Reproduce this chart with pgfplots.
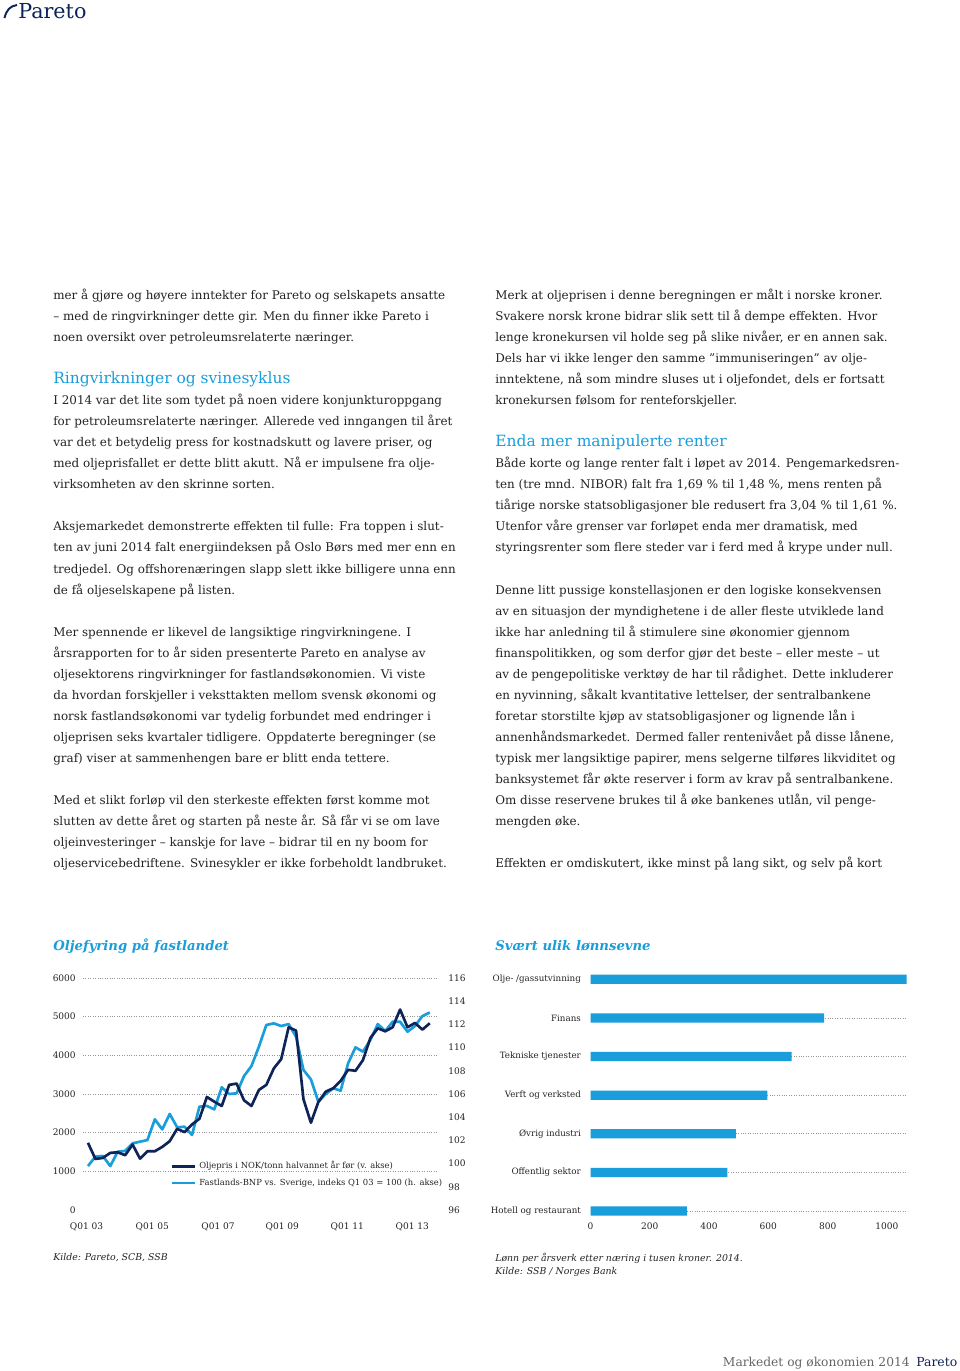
\documentclass[border=0pt]{standalone}
\usepackage{pgfplots}
\pgfplotsset{compat=1.18}
\usepackage{fontspec}
\setmainfont{DejaVu Serif}
\definecolor{pblue}{RGB}{26,158,219}
\definecolor{pnavy}{RGB}{14,35,87}
\definecolor{ptext}{RGB}{35,35,35}
\definecolor{pgrid}{RGB}{150,150,150}
\newcommand\bodyfont{\fontsize{7.4}{9}\selectfont}
\newcommand\tickfont{\fontsize{5.6}{6.5}\selectfont}
\newcommand\catfont{\fontsize{5.4}{6.5}\selectfont}
\newcommand\legfont{\fontsize{5.2}{6.1}\selectfont}
\newcommand\TL[3]{\node[anchor=base west,inner sep=0pt,text=ptext,font=\bodyfont] at (#1,{299.5+21.04*#2}) {#3};}
\begin{document}
\begin{tikzpicture}
\begin{scope}[x=0.62pt,y=-0.62pt]
\useasboundingbox[fill=white] (0,0) rectangle (960,1371);
% logo
\draw[pnavy, line width=1.2pt] (4.5,18) .. controls (6.5,10) and (10,6) .. (17,5);
\node[anchor=base west,inner sep=0pt,text=pnavy,font=\fontsize{12.8}{13}\selectfont] at (18,18.5) {Pareto};
% left column
\TL{53}{0}{mer å gjøre og høyere inntekter for Pareto og selskapets ansatte}
\TL{53}{1}{– med de ringvirkninger dette gir. Men du finner ikke Pareto i}
\TL{53}{2}{noen oversikt over petroleumsrelaterte næringer.}
\node[anchor=base west,inner sep=0pt,text=pblue,font=\fontsize{9.6}{11}\selectfont] at (53,{299.5+21.04*4}) {Ringvirkninger og svinesyklus};
\TL{53}{5}{I 2014 var det lite som tydet på noen videre konjunkturoppgang}
\TL{53}{6}{for petroleumsrelaterte næringer. Allerede ved inngangen til året}
\TL{53}{7}{var det et betydelig press for kostnadskutt og lavere priser, og}
\TL{53}{8}{med oljeprisfallet er dette blitt akutt. Nå er impulsene fra olje-}
\TL{53}{9}{virksomheten av den skrinne sorten.}
\TL{53}{11}{Aksjemarkedet demonstrerte effekten til fulle: Fra toppen i slut-}
\TL{53}{12}{ten av juni 2014 falt energiindeksen på Oslo Børs med mer enn en}
\TL{53}{13}{tredjedel. Og offshorenæringen slapp slett ikke billigere unna enn}
\TL{53}{14}{de få oljeselskapene på listen.}
\TL{53}{16}{Mer spennende er likevel de langsiktige ringvirkningene. I}
\TL{53}{17}{årsrapporten for to år siden presenterte Pareto en analyse av}
\TL{53}{18}{oljesektorens ringvirkninger for fastlandsøkonomien. Vi viste}
\TL{53}{19}{da hvordan forskjeller i veksttakten mellom svensk økonomi og}
\TL{53}{20}{norsk fastlandsøkonomi var tydelig forbundet med endringer i}
\TL{53}{21}{oljeprisen seks kvartaler tidligere. Oppdaterte beregninger (se}
\TL{53}{22}{graf) viser at sammenhengen bare er blitt enda tettere.}
\TL{53}{24}{Med et slikt forløp vil den sterkeste effekten først komme mot}
\TL{53}{25}{slutten av dette året og starten på neste år. Så får vi se om lave}
\TL{53}{26}{oljeinvesteringer – kanskje for lave – bidrar til en ny boom for}
\TL{53}{27}{oljeservicebedriftene. Svinesykler er ikke forbeholdt landbruket.}
% right column
\TL{495}{0}{Merk at oljeprisen i denne beregningen er målt i norske kroner.}
\TL{495}{1}{Svakere norsk krone bidrar slik sett til å dempe effekten. Hvor}
\TL{495}{2}{lenge kronekursen vil holde seg på slike nivåer, er en annen sak.}
\TL{495}{3}{Dels har vi ikke lenger den samme ”immuniseringen” av olje-}
\TL{495}{4}{inntektene, nå som mindre sluses ut i oljefondet, dels er fortsatt}
\TL{495}{5}{kronekursen følsom for renteforskjeller.}
\node[anchor=base west,inner sep=0pt,text=pblue,font=\fontsize{9.6}{11}\selectfont] at (495,{299.5+21.04*7}) {Enda mer manipulerte renter};
\TL{495}{8}{Både korte og lange renter falt i løpet av 2014. Pengemarkedsren-}
\TL{495}{9}{ten (tre mnd. NIBOR) falt fra 1,69 \% til 1,48 \%, mens renten på}
\TL{495}{10}{tiårige norske statsobligasjoner ble redusert fra 3,04 \% til 1,61 \%.}
\TL{495}{11}{Utenfor våre grenser var forløpet enda mer dramatisk, med}
\TL{495}{12}{styringsrenter som flere steder var i ferd med å krype under null.}
\TL{495}{14}{Denne litt pussige konstellasjonen er den logiske konsekvensen}
\TL{495}{15}{av en situasjon der myndighetene i de aller fleste utviklede land}
\TL{495}{16}{ikke har anledning til å stimulere sine økonomier gjennom}
\TL{495}{17}{finanspolitikken, og som derfor gjør det beste – eller meste – ut}
\TL{495}{18}{av de pengepolitiske verktøy de har til rådighet. Dette inkluderer}
\TL{495}{19}{en nyvinning, såkalt kvantitative lettelser, der sentralbankene}
\TL{495}{20}{foretar storstilte kjøp av statsobligasjoner og lignende lån i}
\TL{495}{21}{annenhåndsmarkedet. Dermed faller rentenivået på disse lånene,}
\TL{495}{22}{typisk mer langsiktige papirer, mens selgerne tilføres likviditet og}
\TL{495}{23}{banksystemet får økte reserver i form av krav på sentralbankene.}
\TL{495}{24}{Om disse reservene brukes til å øke bankenes utlån, vil penge-}
\TL{495}{25}{mengden øke.}
\TL{495}{27}{Effekten er omdiskutert, ikke minst på lang sikt, og selv på kort}
% chart titles
\node[anchor=base west,inner sep=0pt,text=pblue,font=\fontsize{8.2}{10}\selectfont\bfseries\itshape] at (53,950) {Oljefyring på fastlandet};
\node[anchor=base west,inner sep=0pt,text=pblue,font=\fontsize{8.2}{10}\selectfont\bfseries\itshape] at (495,950) {Svært ulik lønnsevne};
% sources
\node[anchor=base west,inner sep=0pt,text=ptext,font=\fontsize{5.8}{7}\selectfont\itshape] at (53,1260) {Kilde: Pareto, SCB, SSB};
\node[anchor=base west,inner sep=0pt,text=ptext,font=\fontsize{5.8}{7}\selectfont\itshape] at (495,1261) {Lønn per årsverk etter næring i tusen kroner. 2014.};
\node[anchor=base west,inner sep=0pt,text=ptext,font=\fontsize{5.8}{7}\selectfont\itshape] at (495,1274) {Kilde: SSB / Norges Bank};
% footer
\node[anchor=base east,inner sep=0pt,text=black!60,font=\fontsize{7.6}{9}\selectfont] at (910,1366) {Markedet og økonomien 2014};
\node[anchor=base west,inner sep=0pt,text=pnavy,font=\fontsize{7.7}{9}\selectfont] at (916,1366) {Pareto};
\end{scope}

\pgfplotsset{
  pstyle/.style={
    scale only axis, width={355*0.62pt}, height={232*0.62pt},
    at={({83*0.62pt},{-1210*0.62pt})}, anchor=south west,
    xmin=-0.67, xmax=47.1, clip=false,
    axis line style={draw=none}, tick style={draw=none},
    tick label style={font=\tickfont, text=ptext},
    /pgf/number format/assume math mode=true,
    /pgf/number format/1000 sep={},
  }
}
% axis 1: grid, left labels, x labels
\begin{axis}[pstyle,
  ymin=0, ymax=6000,
  ytick={1000,2000,3000,4000,5000,6000},
  extra y ticks={0}, extra y tick style={grid=none},
  ymajorgrids, grid style={pgrid, line width=0.4pt, dash pattern=on 0.6pt off 0.9pt},
  yticklabel style={inner sep=0pt, xshift=-4.3pt},
  xtick={-0.2,8.65,17.5,26.15,34.9,43.65},
  xticklabels={Q01 03,Q01 05,Q01 07,Q01 09,Q01 11,Q01 13},
  xticklabel style={inner sep=0pt, yshift=-7.5pt},
]
\end{axis}
% axis 2: right axis, light series
\begin{axis}[pstyle,
  ymin=96, ymax=116,
  axis x line=none, axis y line*=right,
  ytick={96,98,...,116},
  yticklabel style={inner sep=0pt, xshift=6.2pt},
]
\addplot[pblue, line width=1.65pt, line join=round] coordinates {
(0,99.79)(1,100.60)(2,100.66)(3,99.79)(4,101.03)(5,101.09)(6,101.75)(7,101.89)(8,102.03)(9,103.82)(10,102.95)(11,104.28)(12,103.13)(13,103.18)(14,102.47)(15,104.91)(16,104.97)(17,104.68)(18,106.58)(19,106.00)(20,106.06)(21,107.55)(22,108.41)(23,110.08)(24,111.95)(25,112.09)(26,111.86)(27,112.03)(28,110.94)(29,108.07)(30,107.26)(31,105.34)(32,106.00)(33,106.49)(34,106.29)(35,108.64)(36,110.02)(37,109.65)(38,110.66)(39,112.03)(40,111.43)(41,112.23)(42,112.23)(43,111.37)(44,111.86)(45,112.72)(46,113.03)};
\end{axis}
% axis 3: dark series + legend
\begin{axis}[pstyle,
  ymin=0, ymax=6000, hide axis,
  legend style={at={(0.245,0.2246)}, anchor=north west, draw=none, fill=none,
    inner sep=0pt, font=\legfont, text=ptext, row sep=0.6pt},
  legend cell align=left,
  legend image code/.code={\draw[#1] (0pt,0pt) -- (14.3pt,0pt);},
]
\addplot[pnavy, line width=1.65pt, line join=round] coordinates {
(0,1737)(1,1321)(2,1347)(3,1477)(4,1494)(5,1416)(6,1693)(7,1329)(8,1520)(9,1520)(10,1633)(11,1780)(12,2100)(13,2014)(14,2213)(15,2360)(16,2924)(17,2802)(18,2690)(19,3236)(20,3270)(21,2837)(22,2690)(23,3106)(24,3236)(25,3660)(26,3903)(27,4726)(28,4640)(29,2863)(30,2257)(31,2794)(32,3062)(33,3149)(34,3340)(35,3626)(36,3600)(37,3877)(38,4449)(39,4700)(40,4622)(41,4726)(42,5185)(43,4726)(44,4839)(45,4666)(46,4830)};
\addlegendentry{Oljepris i NOK/tonn halvannet år før (v. akse)}
\addlegendimage{pblue, line width=1.65pt}
\addlegendentry{Fastlands-BNP vs. Sverige, indeks Q1 03 = 100 (h. akse)}
\end{axis}
% bar chart
\begin{axis}[
  scale only axis, width={316*0.62pt}, height={231.7*0.62pt},
  at={({590.5*0.62pt},{-1211*0.62pt})}, anchor=south west,
  xmin=0, xmax=1066, ymin=0, ymax=6, clip=false,
  xbar, bar width={9.3*0.62pt},
  axis line style={draw=none}, tick style={draw=none},
  tick label style={font=\tickfont, text=ptext},
  /pgf/number format/assume math mode=true,
  /pgf/number format/1000 sep={},
  xtick={0,200,400,600,800,1000},
  xticklabel style={inner sep=0pt, yshift=-7pt},
  ytick={0,1,2,3,4,5,6},
  yticklabels={Hotell og restaurant,Offentlig sektor,Øvrig industri,Verft og verksted,Tekniske tjenester,Finans,Olje- /gassutvinning},
  yticklabel style={inner sep=0pt, xshift=-1.5pt, font=\catfont},
  ymajorgrids, grid style={pgrid, line width=0.4pt, dash pattern=on 0.6pt off 0.9pt},
]
\addplot[fill=pblue, draw=none] coordinates {(325.5,0)(461.4,1)(490.7,2)(596.3,3)(678.6,4)(788.5,5)(1066,6)};
\end{axis}
\end{tikzpicture}
\end{document}
